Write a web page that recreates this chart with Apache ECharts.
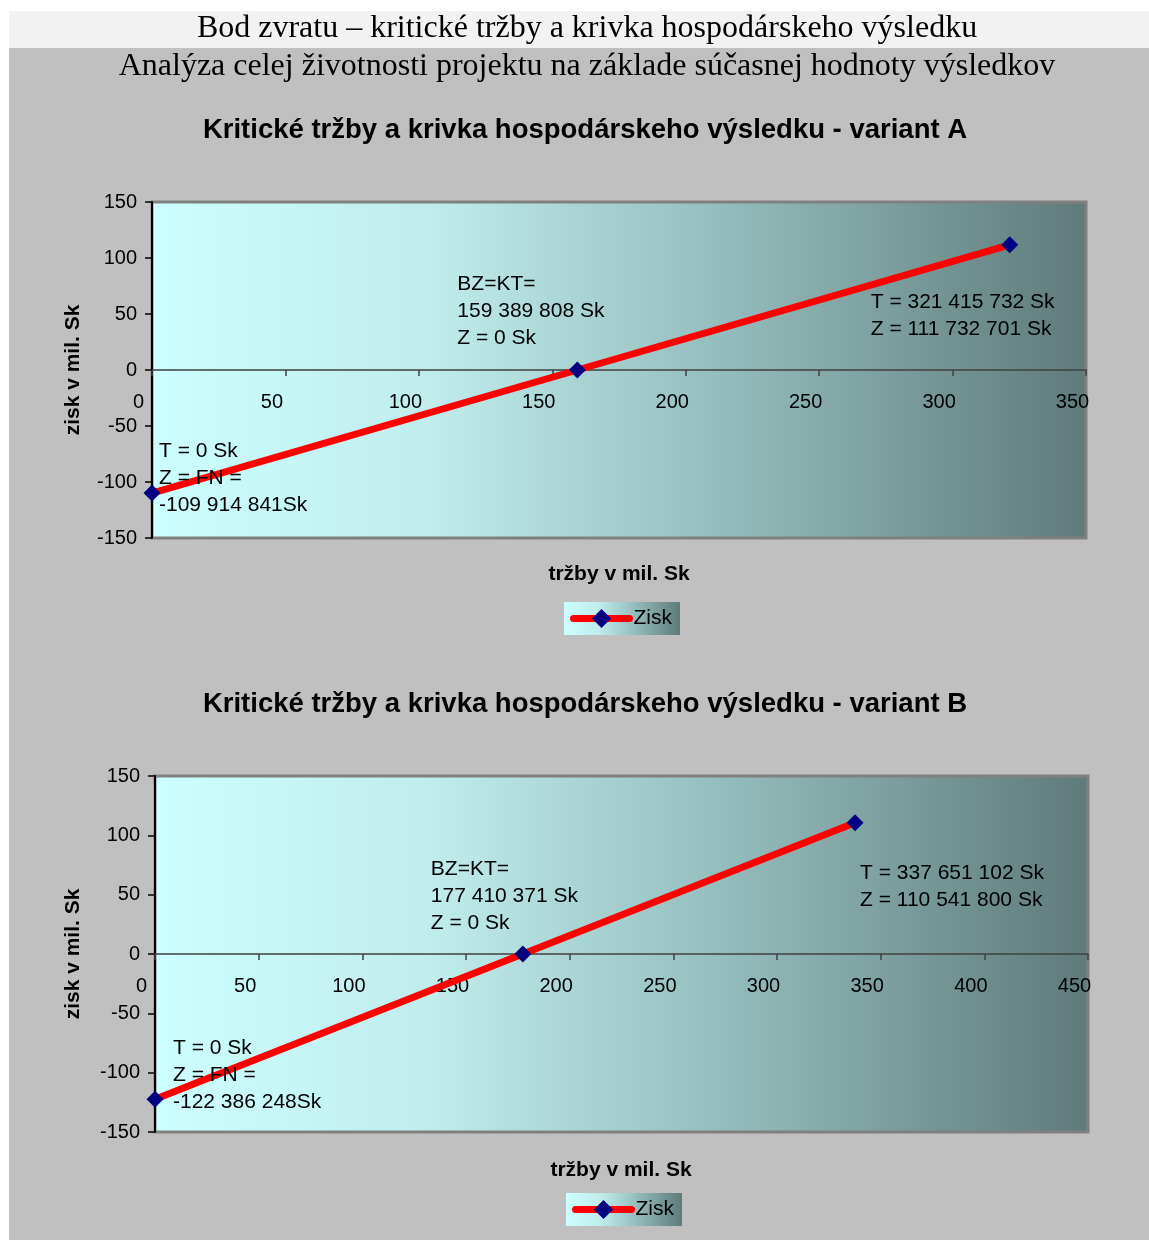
<!DOCTYPE html>
<html>
<head>
<meta charset="utf-8">
<script src="https://cdn.jsdelivr.net/npm/echarts@6/dist/echarts.min.js"></script>
<style>
  html, body { margin: 0; padding: 0; background: #ffffff; }
  #chart { width: 1149px; height: 1240px; }
</style>
</head>
<body>
<div id="chart"></div>
<script>
// Break-even data (sales and profit in millions of Sk)
const salesA  = [0, 159.389808, 321.415732];
const profitA = [-109.914841, 0, 111.732701];
const labelsA = [
  'T = 0 Sk\nZ = FN =\n-109 914 841Sk',
  'BZ=KT=\n159 389 808 Sk\nZ = 0 Sk',
  'T = 321 415 732 Sk\nZ = 111 732 701 Sk'
];

const salesB  = [0, 177.410371, 337.651102];
const profitB = [-122.386248, 0, 110.5418];
const labelsB = [
  'T = 0 Sk\nZ = FN =\n-122 386 248Sk',
  'BZ=KT=\n177 410 371 Sk\nZ = 0 Sk',
  'T = 337 651 102 Sk\nZ = 110 541 800 Sk'
];

const xRangeA = [0, 350];
const xRangeB = [0, 450];
const yRange  = [-150, 150];
const tickStep = 50;

const pageTitle    = 'Bod zvratu – kritické tržby a krivka hospodárskeho výsledku';
const pageSubtitle = 'Analýza celej životnosti projektu na základe súčasnej hodnoty výsledkov';
const titleA = 'Kritické tržby a krivka hospodárskeho výsledku - variant A';
const titleB = 'Kritické tržby a krivka hospodárskeho výsledku - variant B';
const xName = 'tržby v mil. Sk';
const yName = 'zisk v mil. Sk';
const seriesName = 'Zisk';

// label placement relative to each point (left edge, vertical middle)
const labelOffsetsA = [[7, -15], [-120, -59], [-139, 71]];
const labelOffsetsB = [[18, -24], [-92, -58], [5, 64]];

const SANS = 'Liberation Sans, Arial, sans-serif';
const SERIF = 'Liberation Serif, Times New Roman, serif';

const plotFill = {
  type: 'linear', x: 0, y: 0, x2: 1, y2: 0,
  colorStops: [
    { offset: 0, color: '#ccffff' },
    { offset: 0.3, color: '#c0ecec' },
    { offset: 0.6, color: '#96bebe' },
    { offset: 1, color: '#5f7a7a' }
  ]
};

// the sales axis sits on the zero line: shift it up by half the plot height
function makeXAxis(gridIndex, range, plotHeight) {
  return {
    type: 'value', gridIndex, min: range[0], max: range[1], interval: tickStep,
    position: 'bottom', offset: -plotHeight / 2,
    axisLine: { onZero: false, lineStyle: { color: '#404040', width: 1.5 } },
    axisTick: { show: true, length: 6, lineStyle: { color: '#404040', width: 1.5 } },
    axisLabel: {
      fontSize: 20, fontFamily: SANS, color: '#000', margin: 22,
      padding: [0, 27, 0, 0], showMinLabel: true, showMaxLabel: true
    },
    splitLine: { show: false }
  };
}

function makeYAxis(gridIndex) {
  return {
    type: 'value', gridIndex, min: yRange[0], max: yRange[1], interval: tickStep,
    axisLine: { show: true, onZero: false, lineStyle: { color: '#000', width: 2 } },
    axisTick: { show: true, length: 7, lineStyle: { color: '#000', width: 1.5 } },
    axisLabel: { fontSize: 20, fontFamily: SANS, color: '#000', margin: 15 },
    splitLine: { show: false }
  };
}

function makeSeries(idx, xs, ys, texts, offsets) {
  return {
    name: seriesName, type: 'line', xAxisIndex: idx, yAxisIndex: idx,
    smooth: true,
    symbol: 'diamond', symbolSize: 17,
    itemStyle: { color: '#000080' },
    lineStyle: { color: '#ff0000', width: 7 },
    data: xs.map((x, i) => ({
      value: [x, ys[i]],
      label: {
        show: true, position: 'inside', align: 'left', verticalAlign: 'middle',
        offset: offsets[i], formatter: texts[i],
        fontSize: 21, lineHeight: 27, fontFamily: SANS, color: '#000',
        textBorderWidth: 0
      }
    })),
    z: 3
  };
}

function makeLegend(left, top) {
  return {
    left, top, orient: 'horizontal',
    data: [seriesName],
    backgroundColor: plotFill,
    padding: [6, 8, 6, 6],
    itemWidth: 56, itemHeight: 24, itemGap: 4,
    lineStyle: { width: 7, color: '#ff0000', cap: 'round' },
    itemStyle: { color: '#000080' },
    textStyle: { fontSize: 21, fontFamily: SANS, color: '#000', padding: [0, 0, 0, -1] },
    selectedMode: false
  };
}

const chart = echarts.init(document.getElementById('chart'), null, { renderer: 'canvas' });

chart.setOption({
  animation: false,
  backgroundColor: '#ffffff',
  graphic: [
    { type: 'rect', shape: { x: 9, y: 11, width: 1140, height: 37 }, style: { fill: '#f2f2f2' }, z: -10 },
    { type: 'rect', shape: { x: 9, y: 48, width: 1140, height: 1192 }, style: { fill: '#c0c0c0' }, z: -10 },
    { type: 'text', x: 587, y: 29, style: { text: pageTitle, font: '32px ' + SERIF, fill: '#000', align: 'center', verticalAlign: 'middle' } },
    { type: 'text', x: 587, y: 67, style: { text: pageSubtitle, font: '32px ' + SERIF, fill: '#000', align: 'center', verticalAlign: 'middle' } },
    { type: 'text', x: 585, y: 130, style: { text: titleA, font: 'bold 27.5px ' + SANS, fill: '#000', align: 'center', verticalAlign: 'middle' } },
    { type: 'text', x: 585, y: 704, style: { text: titleB, font: 'bold 27.5px ' + SANS, fill: '#000', align: 'center', verticalAlign: 'middle' } },
    { type: 'text', x: 619, y: 574, style: { text: xName, font: 'bold 21px ' + SANS, fill: '#000', align: 'center', verticalAlign: 'middle' } },
    { type: 'text', x: 621, y: 1170, style: { text: xName, font: 'bold 21px ' + SANS, fill: '#000', align: 'center', verticalAlign: 'middle' } },
    { type: 'text', x: 73, y: 370, rotation: Math.PI / 2, style: { text: yName, font: 'bold 21px ' + SANS, fill: '#000', align: 'center', verticalAlign: 'middle' } },
    { type: 'text', x: 73, y: 954, rotation: Math.PI / 2, style: { text: yName, font: 'bold 21px ' + SANS, fill: '#000', align: 'center', verticalAlign: 'middle' } }
  ],
  grid: [
    { left: 152, top: 202, width: 934, height: 336, show: true, backgroundColor: plotFill, borderColor: '#808080', borderWidth: 3 },
    { left: 155, top: 776, width: 933, height: 356, show: true, backgroundColor: plotFill, borderColor: '#808080', borderWidth: 3 }
  ],
  xAxis: [makeXAxis(0, xRangeA, 336), makeXAxis(1, xRangeB, 356)],
  yAxis: [makeYAxis(0), makeYAxis(1)],
  legend: [makeLegend(564, 602), makeLegend(566, 1193)],
  series: [
    makeSeries(0, salesA, profitA, labelsA, labelOffsetsA),
    makeSeries(1, salesB, profitB, labelsB, labelOffsetsB)
  ]
});
</script>
</body>
</html>
